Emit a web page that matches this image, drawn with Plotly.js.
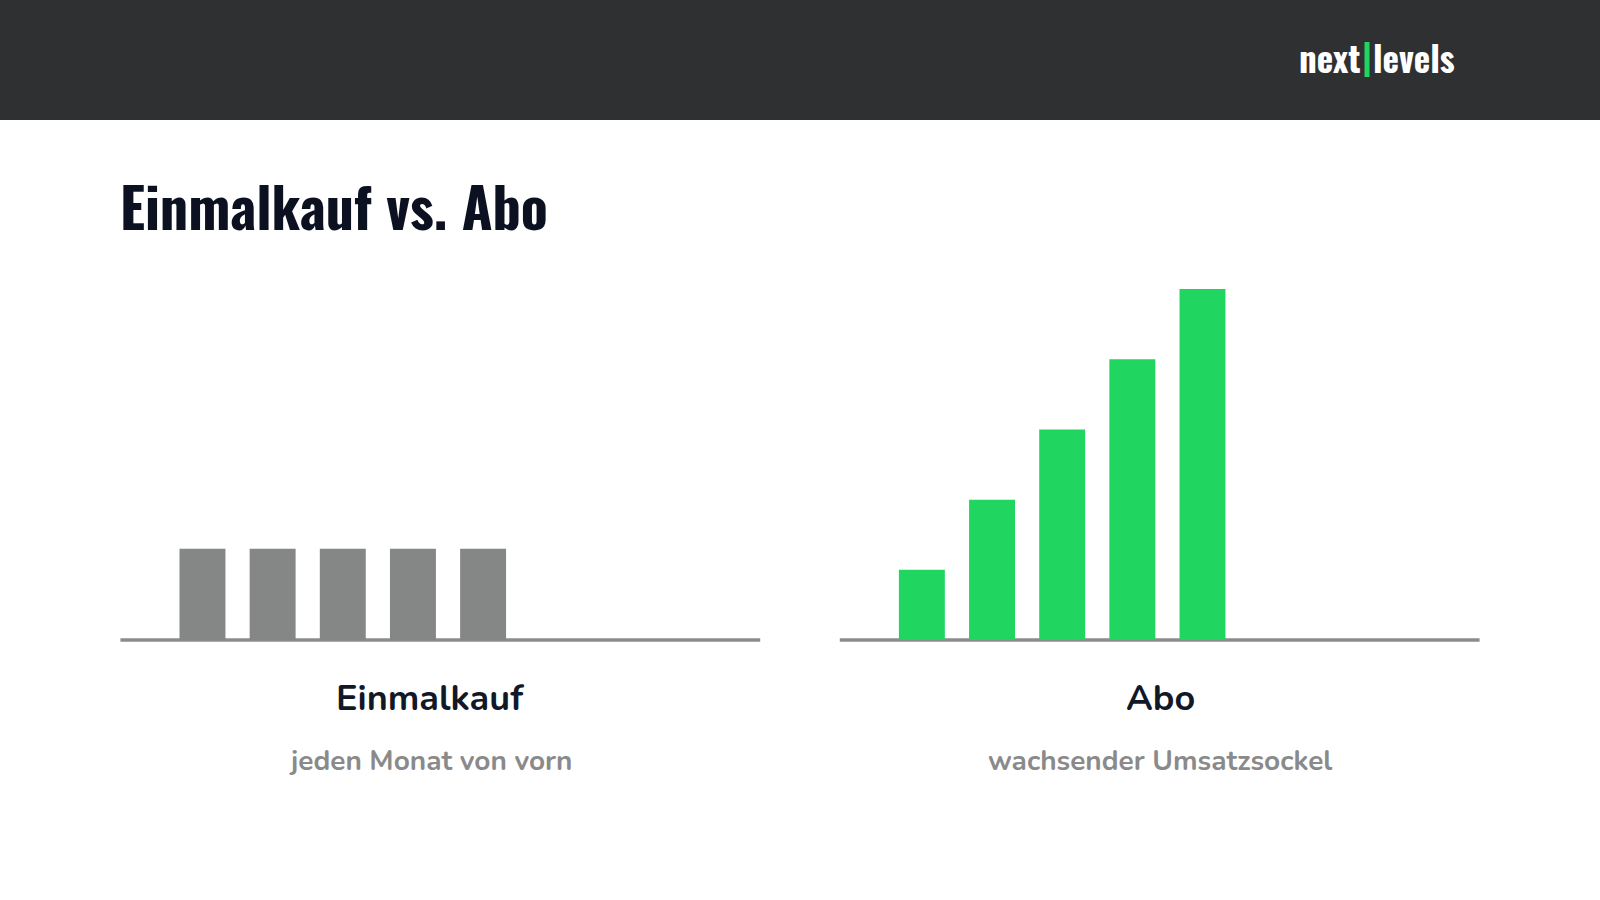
<!DOCTYPE html>
<html>
<head>
<meta charset="utf-8">
<script src="https://cdn.plot.ly/plotly-3.0.1.min.js"></script>
<style>
  html, body { margin: 0; padding: 0; background: #ffffff; }
  #chart { width: 1600px; height: 900px; }
</style>
</head>
<body>
<div id="chart"></div>
<script>
// ---- data ----
const months = [1, 2, 3, 4, 5];
const einmalkaufValues = [1.3, 1.3, 1.3, 1.3, 1.3];
const aboValues = [1, 2, 3, 4, 5];

const pageTitle = 'Einmalkauf vs. Abo';
const leftLabel = 'Einmalkauf';
const leftSub = 'jeden Monat von vorn';
const rightLabel = 'Abo';
const rightSub = 'wachsender Umsatzsockel';
const logoLeft = 'next';
const logoRight = 'levels';

// ---- styles ----
const grey = '#858787';
const green = '#20d660';
const header = '#2f3032';
const condensed = 'Oswald, "Roboto Condensed", sans-serif';
const roundish = 'Nunito, Lato, sans-serif';

const W = 1600, H = 900;
const baseY = 1 - 640 / H;
const topY = 1 - 240 / H;

const traces = [
  { type: 'bar', x: months, y: einmalkaufValues, xaxis: 'x', yaxis: 'y',
    marker: { color: grey, line: { width: 0 } }, width: 0.655, hoverinfo: 'none' },
  { type: 'bar', x: months, y: aboValues, xaxis: 'x2', yaxis: 'y2',
    marker: { color: green, line: { width: 0 } }, width: 0.655, hoverinfo: 'none' }
];

const hiddenX = { range: [-0.17, 8.95], showgrid: false, zeroline: false, showticklabels: false, ticks: '', showline: false, fixedrange: true };
const hiddenY = { range: [0, 5.7], showgrid: false, zeroline: false, showticklabels: false, ticks: '', showline: false, fixedrange: true };

const layout = {
  width: W, height: H,
  margin: { l: 0, r: 0, t: 0, b: 0 },
  paper_bgcolor: '#ffffff',
  plot_bgcolor: 'rgba(0,0,0,0)',
  showlegend: false,
  xaxis: Object.assign({}, hiddenX, { domain: [120.4 / W, 760.2 / W], anchor: 'y' }),
  yaxis: Object.assign({}, hiddenY, { domain: [baseY, topY], anchor: 'x' }),
  xaxis2: Object.assign({}, hiddenX, { domain: [839.8 / W, 1479.6 / W], anchor: 'y2' }),
  yaxis2: Object.assign({}, hiddenY, { domain: [baseY, topY], anchor: 'x2' }),
  shapes: [
    { type: 'rect', xref: 'paper', yref: 'paper', x0: 0, x1: 1, y0: 1 - 120 / H, y1: 1,
      fillcolor: header, line: { width: 0 }, layer: 'below' },
    { type: 'line', xref: 'x domain', yref: 'paper', x0: 0, x1: 1, y0: baseY, y1: baseY,
      line: { color: '#8c8c8c', width: 3.5 }, layer: 'below' },
    { type: 'line', xref: 'x2 domain', yref: 'paper', x0: 0, x1: 1, y0: baseY, y1: baseY,
      line: { color: '#8c8c8c', width: 3.5 }, layer: 'below' },
    { type: 'rect', xref: 'paper', yref: 'paper', x0: 1364.5 / W, x1: 1369.5 / W,
      y0: 1 - 77 / H, y1: 1 - 42 / H, fillcolor: '#22d462', line: { width: 0 } }
  ],
  annotations: [
    { text: logoLeft, xref: 'paper', yref: 'paper', x: 1363 / W, y: 1 - 57 / H,
      xanchor: 'right', yanchor: 'middle', showarrow: false,
      font: { family: condensed, size: 35, color: '#ffffff', weight: 700 } },
    { text: logoRight, xref: 'paper', yref: 'paper', x: 1371 / W, y: 1 - 57 / H,
      xanchor: 'left', yanchor: 'middle', showarrow: false,
      font: { family: condensed, size: 35, color: '#ffffff', weight: 700 } },
    { text: pageTitle, xref: 'paper', yref: 'paper', x: 118 / W, y: 1 - 205 / H,
      xanchor: 'left', yanchor: 'middle', showarrow: false,
      font: { family: condensed, size: 56, color: '#0b1120', weight: 700 } },
    { text: leftLabel, xref: 'paper', yref: 'paper', x: 430 / W, y: 1 - 698 / H,
      xanchor: 'center', yanchor: 'middle', showarrow: false,
      font: { family: roundish, size: 36, color: '#111827', weight: 700 } },
    { text: rightLabel, xref: 'paper', yref: 'paper', x: 1160 / W, y: 1 - 698 / H,
      xanchor: 'center', yanchor: 'middle', showarrow: false,
      font: { family: roundish, size: 36, color: '#111827', weight: 700 } },
    { text: leftSub, xref: 'paper', yref: 'paper', x: 431 / W, y: 1 - 761 / H,
      xanchor: 'center', yanchor: 'middle', showarrow: false,
      font: { family: roundish, size: 28, color: '#8a8a8a', weight: 700 } },
    { text: rightSub, xref: 'paper', yref: 'paper', x: 1160 / W, y: 1 - 761 / H,
      xanchor: 'center', yanchor: 'middle', showarrow: false,
      font: { family: roundish, size: 28, color: '#8a8a8a', weight: 700 } }
  ]
};

Plotly.newPlot('chart', traces, layout, { staticPlot: true, displayModeBar: false });
</script>
</body>
</html>
